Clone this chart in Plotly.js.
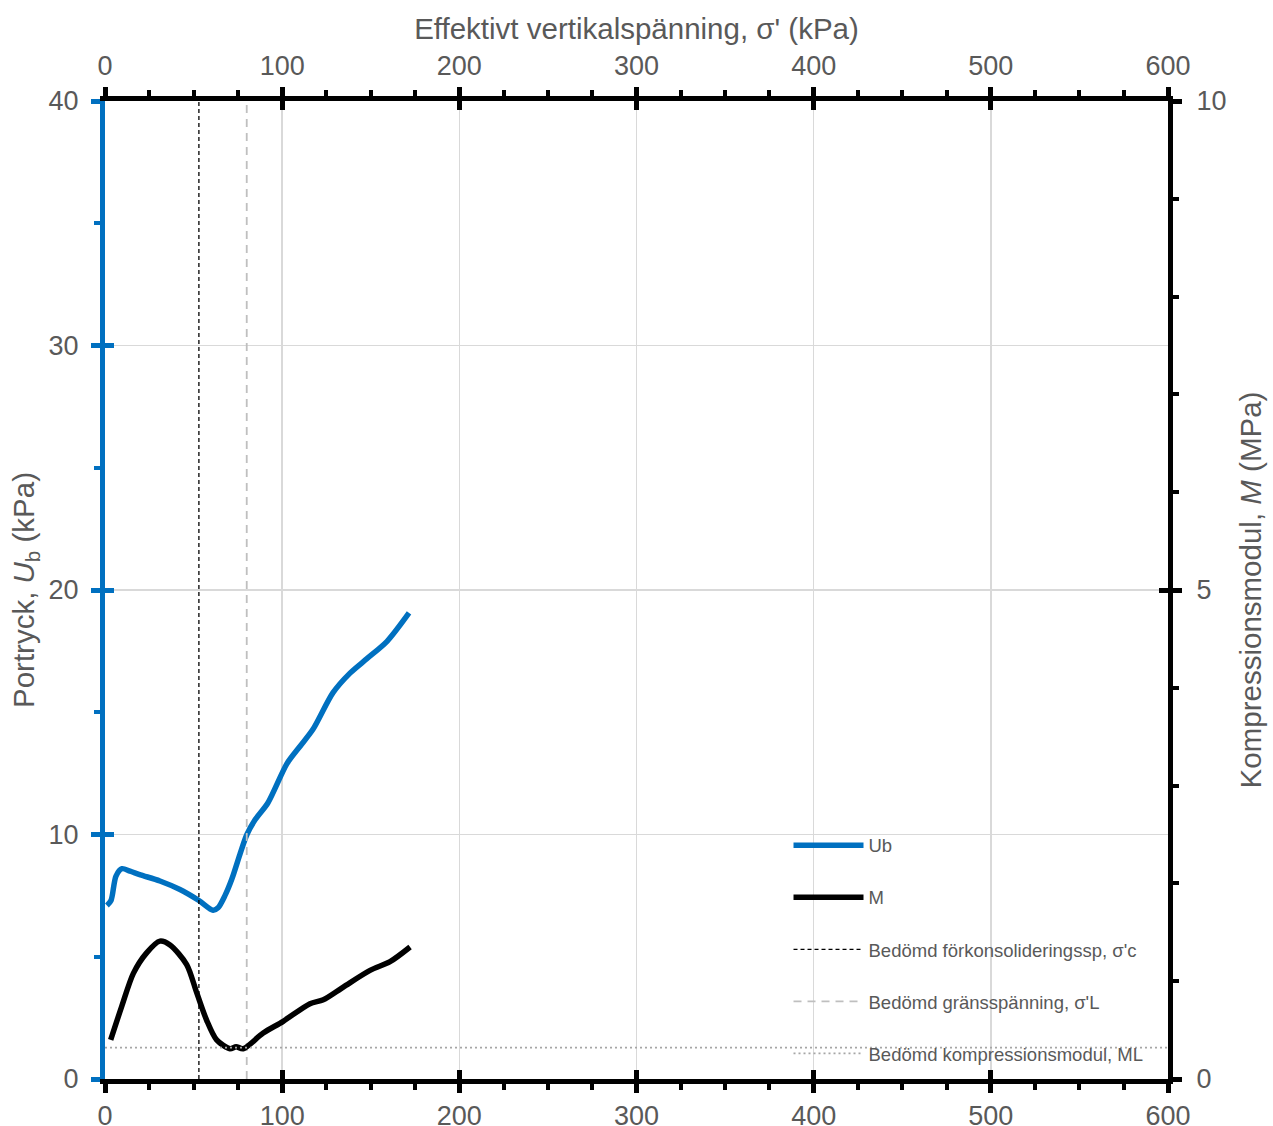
<!DOCTYPE html>
<html>
<head>
<meta charset="utf-8">
<script src="https://cdn.plot.ly/plotly-3.0.1.min.js"></script>
<style>html,body{margin:0;padding:0;background:#fff}#chart{width:1273px;height:1126px}</style>
</head>
<body>
<div id="chart"></div>
<script>
// Effective vertical stress (kPa) and pore pressure Ub (kPa)
var sigma_ub = [1.1, 3.4, 6.2, 9.6, 14.1, 20, 31, 42.3, 53, 61, 63.8, 67.7, 71.7, 76.2, 80.1, 84.7, 92, 102.7, 110, 117.4, 128.7, 138.3, 148, 159.2, 171.6];
var ub = [7.1, 7.3, 8.3, 8.6, 8.5, 8.35, 8.1, 7.75, 7.3, 6.9, 7.0, 7.5, 8.2, 9.2, 10.0, 10.6, 11.3, 12.9, 13.6, 14.3, 15.8, 16.6, 17.2, 17.9, 19.06];
// Effective vertical stress (kPa) and compression modulus M (MPa)
var sigma_m = [3.2, 9.4, 16, 23.5, 31, 36.7, 46.1, 51.8, 57.4, 63, 70.5, 74, 78, 89.3, 100.6, 115.7, 123.2, 134.5, 149.6, 160.9, 172.2];
var m_mod = [0.40, 0.74, 1.08, 1.29, 1.41, 1.37, 1.17, 0.88, 0.60, 0.40, 0.31, 0.33, 0.31, 0.47, 0.59, 0.77, 0.81, 0.94, 1.11, 1.20, 1.35];
// Assessed values
var sigma_c = 53;      // kPa
var sigma_L = 80;      // kPa
var ML = 0.32;         // MPa
var xRange = [0, 600];
var ubRange = [0, 40];
var mRange = [0, 10];
var legendNames = ["Ub", "M", "Bedömd förkonsolideringssp, σ'c", "Bedömd gränsspänning, σ'L", "Bedömd kompressionsmodul, ML"];

var grey = '#595959';
var blue = '#0070C0';
var fam = '"Liberation Sans", Arial, sans-serif';
var tickFont = {family: fam, size: 27, color: grey};
var titleFont = {family: fam, size: 29.5, color: grey};

var traces = [
  {x: sigma_ub, y: ub, type: 'scatter', mode: 'lines', name: legendNames[0], legendgroup: 'a',
   line: {color: blue, width: 5.5, shape: 'spline', smoothing: 0.8}, xaxis: 'x', yaxis: 'y'},
  {x: sigma_m, y: m_mod, type: 'scatter', mode: 'lines', name: legendNames[1], legendgroup: 'b',
   line: {color: '#000000', width: 5.5, shape: 'spline', smoothing: 0.8}, xaxis: 'x', yaxis: 'y2'},
  {x: [sigma_c, sigma_c], y: ubRange, type: 'scatter', mode: 'lines', name: legendNames[2], legendgroup: 'c',
   line: {color: '#000000', width: 1.3, dash: '4px,3px'}, xaxis: 'x', yaxis: 'y'},
  {x: [sigma_L, sigma_L], y: ubRange, type: 'scatter', mode: 'lines', name: legendNames[3], legendgroup: 'd',
   line: {color: '#bfbfbf', width: 1.8, dash: '8px,6px'}, xaxis: 'x', yaxis: 'y'},
  {x: xRange, y: [ML, ML], type: 'scatter', mode: 'lines', name: legendNames[4], legendgroup: 'e',
   line: {color: '#a6a6a6', width: 1.8, dash: '2px,3px'}, xaxis: 'x', yaxis: 'y2'}
];

var baseX = {range: xRange, dtick: 100, tick0: 0, zeroline: false, fixedrange: true};

var layout = {
  width: 1273, height: 1126,
  margin: {l: 105, r: 105, t: 101, b: 47},
  paper_bgcolor: '#ffffff', plot_bgcolor: '#ffffff',
  showlegend: true,
  legend: {x: 0.643, y: 0.258, xanchor: 'left', yanchor: 'top', bgcolor: 'rgba(0,0,0,0)',
           font: {family: fam, size: 18.5, color: grey},
           traceorder: 'grouped', tracegroupgap: 25, itemwidth: 70},
  xaxis: Object.assign({}, baseX, {
    side: 'bottom', anchor: 'y',
    showline: true, linewidth: 5, linecolor: '#000000',
    showgrid: true, gridcolor: '#d9d9d9', gridwidth: 1.5,
    ticks: 'outside', ticklen: 9, tickwidth: 5, tickcolor: '#000000',
    minor: {dtick: 25, tick0: 0, ticks: 'outside', ticklen: 6, tickwidth: 4, tickcolor: '#000000', showgrid: false},
    tickfont: tickFont, ticklabelstandoff: 0
  }),
  xaxis2: Object.assign({}, baseX, {
    side: 'top', overlaying: 'x', anchor: 'y',
    showline: true, linewidth: 5, linecolor: '#000000', showgrid: false,
    ticks: 'outside', ticklen: 9, tickwidth: 5, tickcolor: '#000000',
    minor: {dtick: 25, tick0: 0, ticks: 'outside', ticklen: 6, tickwidth: 4, tickcolor: '#000000', showgrid: false},
    tickfont: tickFont, ticklabelstandoff: 1,
    title: {text: "Effektivt vertikalspänning, σ' (kPa)", font: titleFont, standoff: 4}
  }),
  xaxis3: Object.assign({}, baseX, {
    side: 'bottom', overlaying: 'x', anchor: 'y', showline: false, showgrid: false,
    showticklabels: false, ticks: 'inside', ticklen: 9, tickwidth: 5, tickcolor: '#000000'
  }),
  xaxis4: Object.assign({}, baseX, {
    side: 'top', overlaying: 'x', anchor: 'y', showline: false, showgrid: false,
    showticklabels: false, ticks: 'inside', ticklen: 9, tickwidth: 5, tickcolor: '#000000'
  }),
  yaxis: {
    range: ubRange, dtick: 10, tick0: 0, side: 'left', anchor: 'x', zeroline: false, fixedrange: true,
    showline: true, linewidth: 5, linecolor: blue,
    showgrid: true, gridcolor: '#d9d9d9', gridwidth: 1.5,
    ticks: 'outside', ticklen: 9, tickwidth: 5, tickcolor: blue,
    minor: {dtick: 5, tick0: 0, ticks: 'outside', ticklen: 6, tickwidth: 4, tickcolor: blue, showgrid: false},
    tickfont: tickFont, ticklabelstandoff: 7,
    title: {text: 'Portryck, <i>U</i><sub>b</sub> (kPa)', font: titleFont, standoff: 7}
  },
  yaxis2: {
    range: mRange, dtick: 5, tick0: 0, side: 'right', overlaying: 'y', anchor: 'x', zeroline: false, fixedrange: true,
    showline: true, linewidth: 5, linecolor: '#000000', showgrid: false,
    ticks: 'outside', ticklen: 9, tickwidth: 5, tickcolor: '#000000',
    minor: {dtick: 1, tick0: 0, ticks: 'outside', ticklen: 6, tickwidth: 4, tickcolor: '#000000', showgrid: false},
    tickfont: tickFont, ticklabelstandoff: 9,
    title: {text: 'Kompressionsmodul, <i>M</i> (MPa)', font: titleFont, standoff: 16}
  },
  yaxis3: {
    range: ubRange, dtick: 10, tick0: 0, side: 'left', overlaying: 'y', anchor: 'x', zeroline: false,
    showline: false, showgrid: false, showticklabels: false,
    ticks: 'inside', ticklen: 9, tickwidth: 5, tickcolor: blue
  },
  yaxis4: {
    range: mRange, dtick: 5, tick0: 0, side: 'right', overlaying: 'y', anchor: 'x', zeroline: false,
    showline: false, showgrid: false, showticklabels: false,
    ticks: 'inside', ticklen: 9, tickwidth: 5, tickcolor: '#000000'
  }
};

// invisible helper traces so the tick-only overlay axes are drawn
traces.push({x: xRange, y: ubRange, xaxis: 'x3', yaxis: 'y3', type: 'scatter', mode: 'none', showlegend: false, hoverinfo: 'skip'});
traces.push({x: xRange, y: mRange, xaxis: 'x4', yaxis: 'y4', type: 'scatter', mode: 'none', showlegend: false, hoverinfo: 'skip'});
traces.push({x: xRange, y: ubRange, xaxis: 'x2', yaxis: 'y', type: 'scatter', mode: 'none', showlegend: false, hoverinfo: 'skip'});

Plotly.newPlot('chart', traces, layout, {staticPlot: true, displayModeBar: false});
</script>
</body>
</html>
